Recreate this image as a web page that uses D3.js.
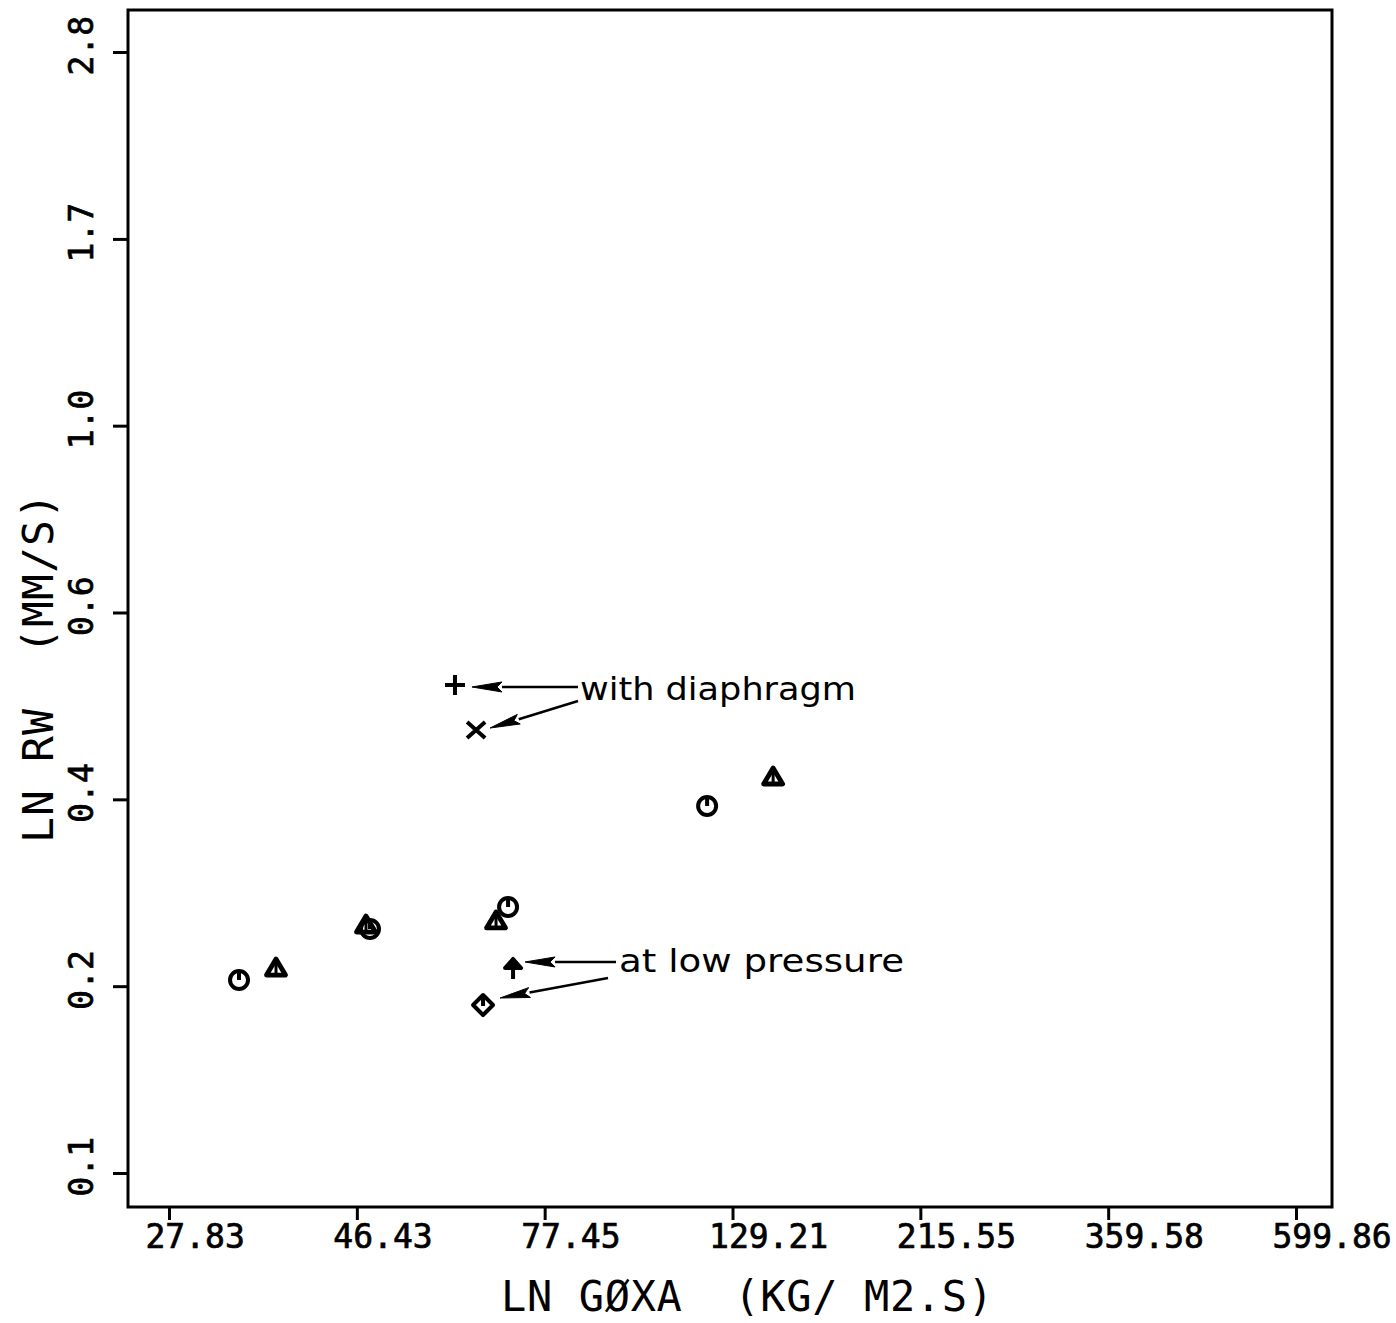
<!DOCTYPE html>
<html>
<head>
<meta charset="utf-8">
<script src="https://cdn.jsdelivr.net/npm/d3@7/dist/d3.min.js"></script>
<style>
  html, body { margin: 0; padding: 0; background: #fff; }
  svg { display: block; }
</style>
</head>
<body>
<svg id="chart" width="1396" height="1323"></svg>
<script>
// ---- data ----
const xTicks = [27.83, 46.43, 77.45, 129.21, 215.55, 359.58, 599.86];
const xTickLabels = ["27.83", "46.43", "77.45", "129.21", "215.55", "359.58", "599.86"];
const yTicks = [0.1299, 0.2167, 0.3615, 0.6031, 1.0061, 1.678, 2.80];
const yTickLabels = ["0.1", "0.2", "0.4", "0.6", "1.0", "1.7", "2.8"];

const circlePts   = [[33.68, 0.2204], [48.12, 0.2534], [70.10, 0.2692], [120.57, 0.3550]];
const trianglePts = [[37.25, 0.2277], [47.60, 0.2562], [67.84, 0.2591], [144.33, 0.3843]];
const arrowPts    = [[71.06, 0.2284]];
const diamondPts  = [[65.48, 0.2058]];
const plusPts     = [[60.66, 0.4945]];
const crossPts    = [[64.25, 0.4371]];

const xTitle = "LN GØXA  (KG/ M2.S)";
const yTitle = "LN RW  (MM/S)";
const noteDiaphragm = "with diaphragm";
const noteLowPressure = "at low pressure";

// ---- layout ----
const svg = d3.select("#chart");
const frame = {left: 128, right: 1332, top: 10, bottom: 1207};
const x = d3.scaleLog().domain([xTicks[0], xTicks[xTicks.length - 1]]).range([169, 1296]);
const y = d3.scaleLog().domain([yTicks[0], yTicks[yTicks.length - 1]]).range([1173, 52]);
const mono = "'DejaVu Sans Mono', 'Liberation Mono', monospace";
const ink = "#000";

// frame
svg.append("rect")
  .attr("x", frame.left).attr("y", frame.top)
  .attr("width", frame.right - frame.left).attr("height", frame.bottom - frame.top)
  .attr("fill", "none").attr("stroke", ink).attr("stroke-width", 3);

// x axis
const xAxis = d3.axisBottom(x).tickValues(xTicks).tickFormat((d, i) => xTickLabels[i])
  .tickSize(13).tickSizeOuter(0);
const gx = svg.append("g").attr("transform", `translate(0,${frame.bottom})`).call(xAxis);
gx.select(".domain").remove();
gx.selectAll(".tick line").attr("stroke", ink).attr("stroke-width", 3);
gx.selectAll(".tick text")
  .attr("font-family", mono).attr("font-size", 33).attr("fill", ink)
  .attr("stroke", ink).attr("stroke-width", 0.7)
  .attr("text-anchor", "start").attr("x", -24).attr("y", 41).attr("dy", null);

// y axis
const yAxis = d3.axisLeft(y).tickValues(yTicks).tickFormat((d, i) => yTickLabels[i])
  .tickSize(15).tickSizeOuter(0);
const gy = svg.append("g").attr("transform", `translate(${frame.left},0)`).call(yAxis);
gy.select(".domain").remove();
gy.selectAll(".tick line").attr("stroke", ink).attr("stroke-width", 3);
gy.selectAll(".tick text")
  .attr("font-family", mono).attr("font-size", 33).attr("fill", ink)
  .attr("stroke", ink).attr("stroke-width", 0.7)
  .attr("text-anchor", "start").attr("x", null).attr("y", null).attr("dy", null)
  .attr("transform", "translate(-35,23) rotate(-90)");

// axis titles
svg.append("text").text(xTitle)
  .attr("x", 501).attr("y", 1311)
  .attr("font-family", mono).attr("font-size", 42).attr("fill", ink)
  .attr("textLength", 492).attr("lengthAdjust", "spacing")
  .style("white-space", "pre");
svg.append("text").text(yTitle)
  .attr("transform", "translate(53,843) rotate(-90)")
  .attr("font-family", mono).attr("font-size", 43).attr("fill", ink)
  .attr("textLength", 350).attr("lengthAdjust", "spacing")
  .style("white-space", "pre");

// ---- markers ----
const sw = 4;
const g = svg.append("g").attr("fill", "none").attr("stroke", ink).attr("stroke-width", sw)
  .attr("stroke-linejoin", "round");

function place(sel) { return sel.attr("transform", d => `translate(${x(d[0])},${y(d[1])})`); }

const circ = place(g.selectAll(".c").data(circlePts).join("g").attr("class", "c"));
circ.append("circle").attr("r", 9);
circ.append("path").attr("d", "M0,-9V0");

const tri = place(g.selectAll(".t").data(trianglePts).join("g").attr("class", "t"));
tri.append("path").attr("d", "M0,-9L9.5,7L-9.5,7Z").attr("stroke-width", 4.8);
tri.append("path").attr("d", "M0,-9V7").attr("stroke-width", 3);

const arr = place(g.selectAll(".a").data(arrowPts).join("g").attr("class", "a"));
arr.append("path").attr("d", "M0,-8L8,1L-8,1Z").attr("fill", ink);
arr.append("path").attr("d", "M0,-8V12");

const dia = place(g.selectAll(".d").data(diamondPts).join("g").attr("class", "d"));
dia.append("path").attr("d", "M0,-10L10,0L0,10L-10,0Z");
dia.append("path").attr("d", "M0,-10V1");

const plus = place(g.selectAll(".p").data(plusPts).join("g").attr("class", "p"));
plus.append("path").attr("d", "M-10,0H10M0,-10V10");

const cross = place(g.selectAll(".x").data(crossPts).join("g").attr("class", "x"));
cross.append("path").attr("d", "M-9,-8L9,8M-9,8L9,-8").attr("stroke-width", 4);

// ---- annotations ----
function arrow(x0, y0, x1, y1) {
  const dx = x1 - x0, dy = y1 - y0, L = Math.hypot(dx, dy);
  const ux = dx / L, uy = dy / L, px = -uy, py = ux;
  const hl = 30, hw = 5;
  const bx = x1 - ux * hl, by = y1 - uy * hl;
  svg.append("line").attr("x1", x0).attr("y1", y0).attr("x2", bx).attr("y2", by)
    .attr("stroke", ink).attr("stroke-width", 2.5);
  svg.append("path")
    .attr("d", `M${x1},${y1}L${bx + px * hw},${by + py * hw}L${bx + ux * 5},${by + uy * 5}L${bx - px * hw},${by - py * hw}Z`)
    .attr("fill", ink).attr("stroke", ink).attr("stroke-width", 1);
}

const pP = plusPts[0], pX = crossPts[0], pA = arrowPts[0], pD = diamondPts[0];
arrow(578, 687, x(pP[0]) + 17, y(pP[1]) + 2);
arrow(578, 701, x(pX[0]) + 14, y(pX[1]) - 2);
arrow(616, 962, x(pA[0]) + 12, y(pA[1]) - 5);
arrow(608, 978, x(pD[0]) + 17, y(pD[1]) - 7);

const sans = "'DejaVu Sans', 'Noto Sans', sans-serif";
svg.append("text").text(noteDiaphragm)
  .attr("x", 580).attr("y", 700)
  .attr("font-family", sans).attr("font-size", 32).attr("fill", ink)
  .attr("textLength", 276).attr("lengthAdjust", "spacingAndGlyphs");
svg.append("text").text(noteLowPressure)
  .attr("x", 619).attr("y", 972)
  .attr("font-family", sans).attr("font-size", 32).attr("fill", ink)
  .attr("textLength", 285).attr("lengthAdjust", "spacingAndGlyphs");
</script>
</body>
</html>
